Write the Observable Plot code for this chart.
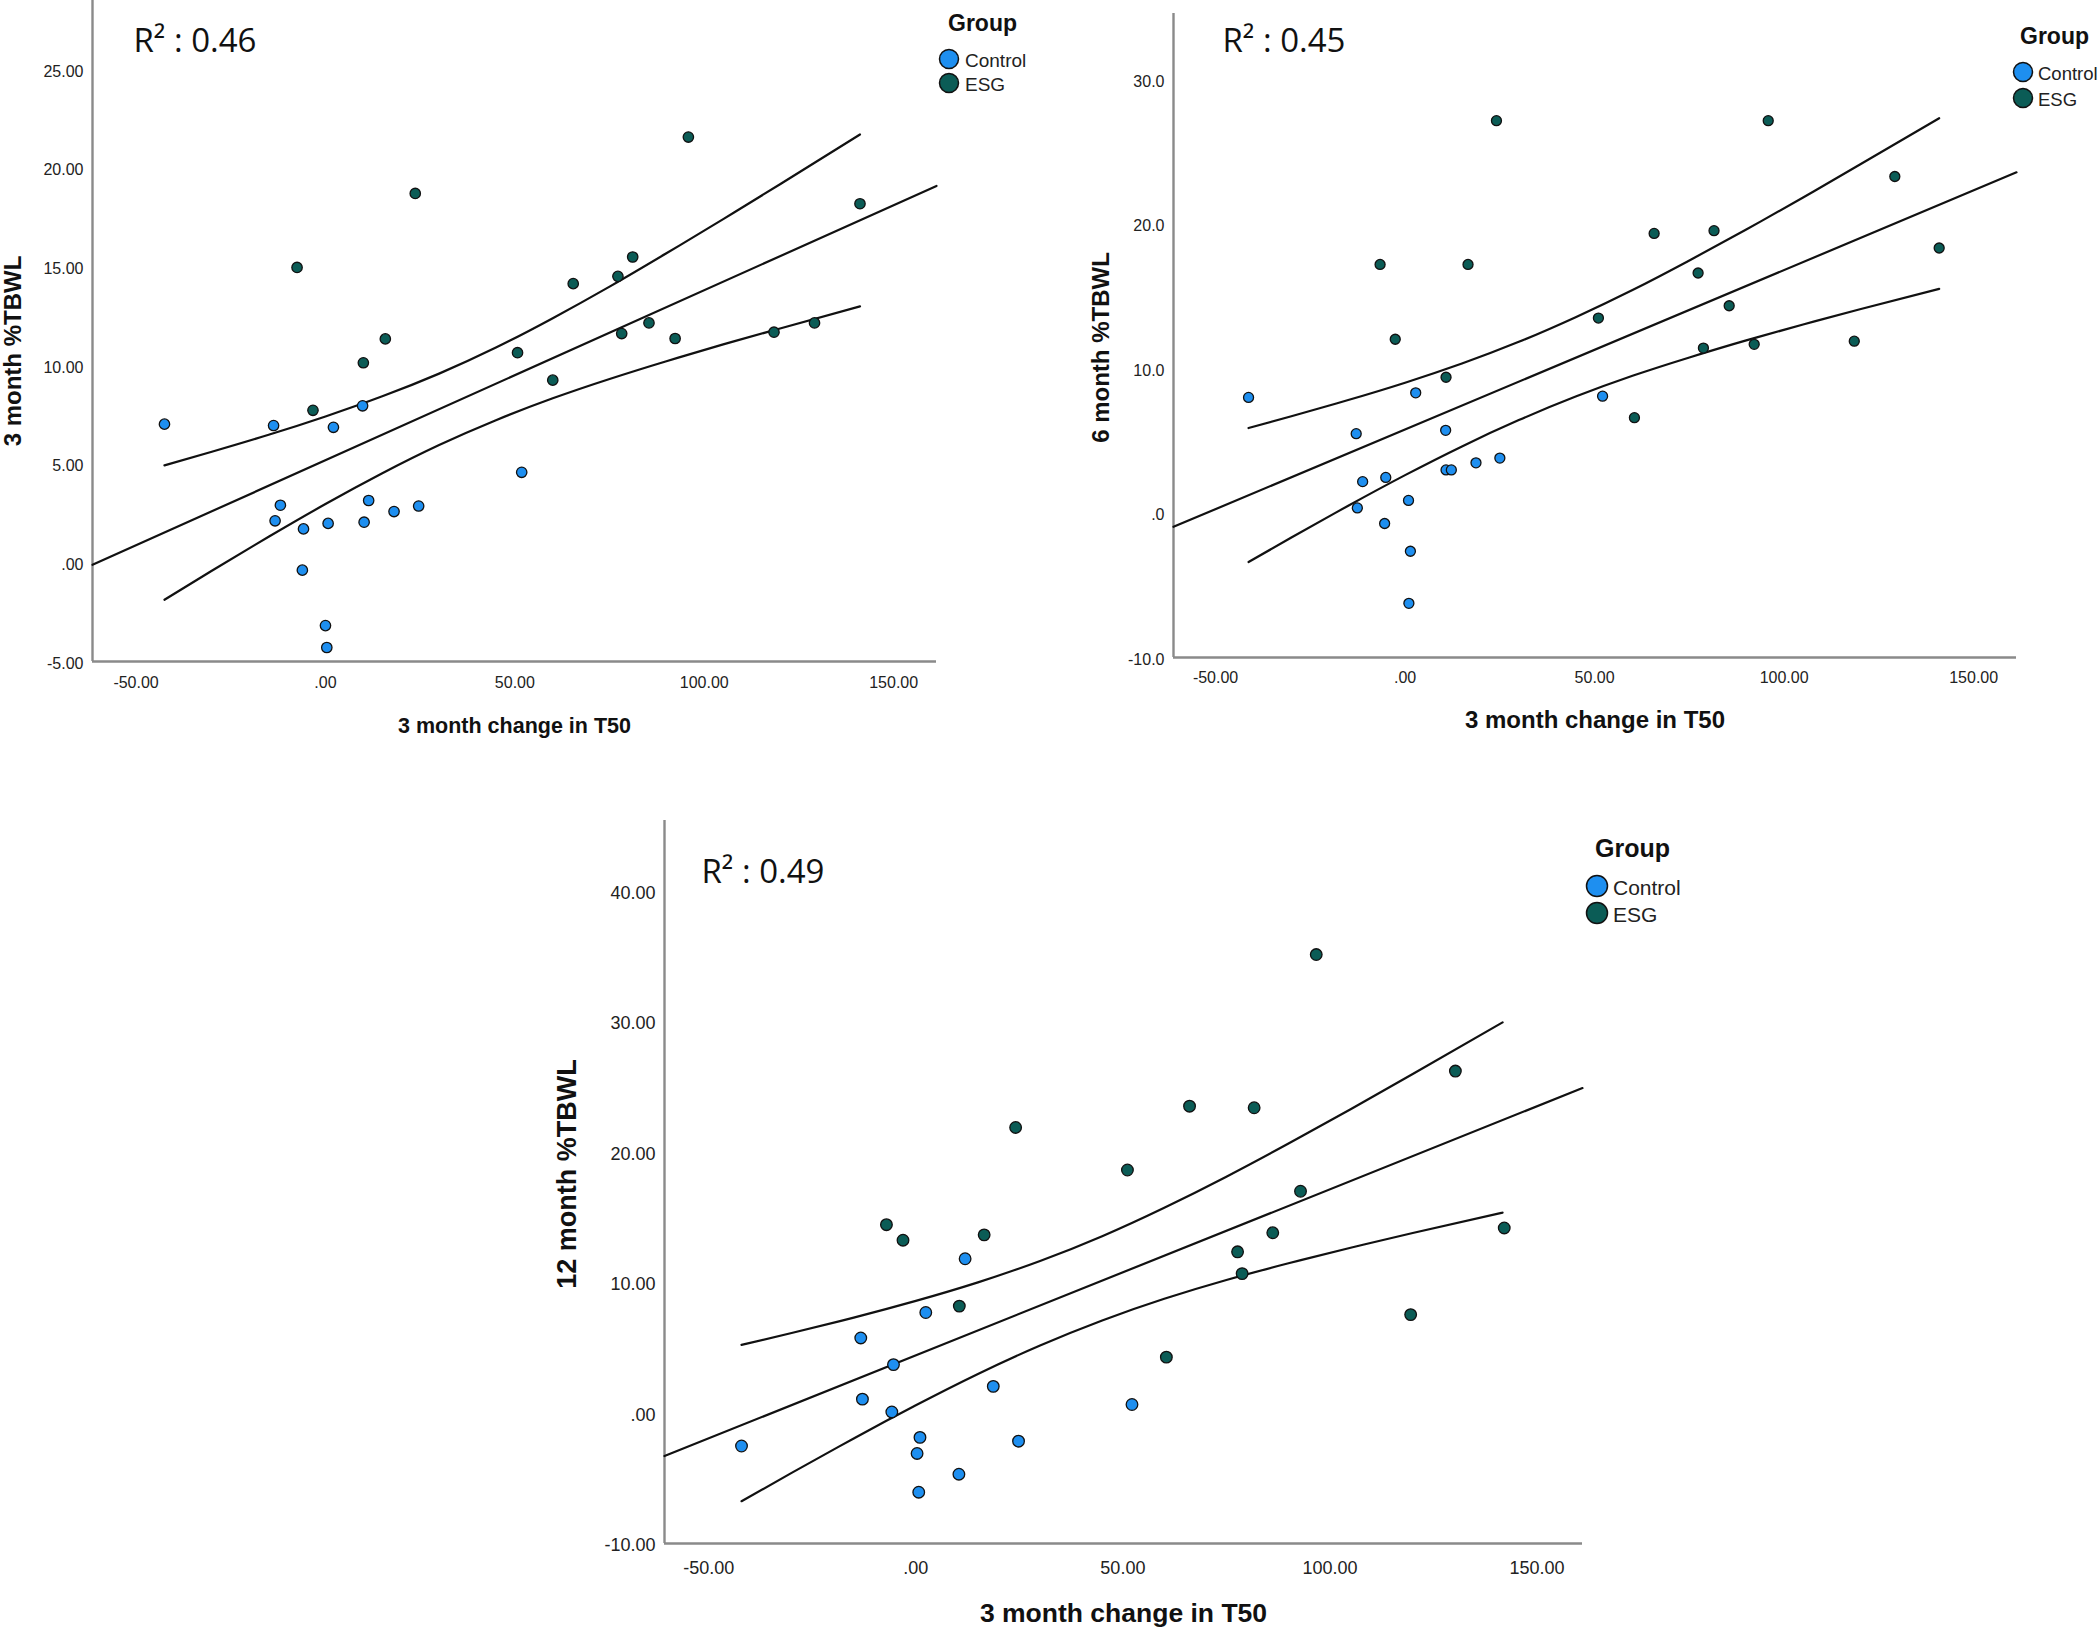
<!DOCTYPE html>
<html>
<head>
<meta charset="utf-8">
<script src="https://cdn.jsdelivr.net/npm/d3@7"></script>
<script src="https://cdn.jsdelivr.net/npm/@observablehq/plot@0.6"></script>
<style>
  html, body { margin: 0; padding: 0; background: #fff; }
  #wrap { position: relative; width: 2100px; height: 1628px; overflow: hidden; background: #fff; }
  .panel { position: absolute; }
  .panel svg { max-width: none; overflow: visible; }
  .legend { position: absolute; overflow: visible; }
</style>
</head>
<body>
<div id="wrap"></div>
<script>
// ---------------- data ----------------
const groups = ["Control", "ESG"];
const groupColors = ["#1e8ff0", "#0b5c56"];
const xTicks = [-50, 0, 50, 100, 150];
const xTickLabels = ["-50.00", ".00", "50.00", "100.00", "150.00"];
const xLabel = "3 month change in T50";

// Panel 1: 3 month %TBWL
const p1YLabel = "3 month %TBWL";
const p1R2 = "R² : 0.46";
const p1XDomain = [-61.5, 161.3];
const p1YDomain = [-5, 28.5];
const p1YTicks = [-5, 0, 5, 10, 15, 20, 25];
const p1YTickLabels = ["-5.00", ".00", "5.00", "10.00", "15.00", "20.00", "25.00"];
const p1ControlX = [-42.5, -13.7, 2.1, 9.8, -11.9, -13.3, -5.8, 0.7, 10.2, 11.4, 18.1, 24.6, -6.1, 0.0, 0.35, 51.8];
const p1ControlY = [7.03, 6.96, 6.87, 7.96, 2.92, 2.13, 1.72, 2.0, 2.06, 3.16, 2.6, 2.88, -0.37, -3.18, -4.29, 4.59];
const p1EsgX = [-7.5, -3.3, 10.0, 15.8, 23.7, 50.7, 60.0, 65.4, 77.2, 81.1, 78.2, 85.4, 92.3, 95.8, 118.4, 129.1, 141.1];
const p1EsgY = [14.97, 7.73, 10.14, 11.35, 18.72, 10.65, 9.26, 14.15, 14.52, 15.5, 11.62, 12.16, 11.37, 21.58, 11.69, 12.16, 18.2];
const p1FitX = [-61.5, 161.3];
const p1FitY = [-0.1, 19.1];
const p1BandX = [-42.5, -30, -15, 0, 15, 30, 45, 60, 75, 90, 105, 120, 141.1];
const p1Upper = [4.94, 5.63, 6.49, 7.42, 8.44, 9.59, 10.91, 12.40, 14.00, 15.69, 17.42, 19.19, 21.71];
const p1Lower = [-1.87, -0.40, 1.32, 2.98, 4.54, 5.97, 7.23, 8.34, 9.32, 10.22, 11.07, 11.88, 13.00];

// Panel 2: 6 month %TBWL
const p2YLabel = "6 month %TBWL";
const p2R2 = "R² : 0.45";
const p2XDomain = [-61.1, 161.3];
const p2YDomain = [-10, 34.6];
const p2YTicks = [-10, 0, 10, 20, 30];
const p2YTickLabels = ["-10.0", ".0", "10.0", "20.0", "30.0"];
const p2ControlX = [-41.3, -12.9, 2.8, 10.7, -11.2, -5.1, -12.6, 0.9, -5.4, 10.8, 12.2, 18.7, 25.0, 1.4, 1.0, 52.1];
const p2ControlY = [8.01, 5.50, 8.33, 5.73, 2.18, 2.47, 0.36, 0.88, -0.72, 2.99, 2.99, 3.48, 3.81, -2.64, -6.25, 8.1];
const p2EsgX = [-6.6, -2.6, 10.8, 16.6, 24.1, 51.0, 60.5, 65.7, 77.3, 81.5, 78.7, 85.5, 92.1, 95.8, 118.5, 129.2, 140.9];
const p2EsgY = [17.22, 12.04, 9.41, 17.22, 27.18, 13.51, 6.61, 19.37, 16.63, 19.56, 11.43, 14.36, 11.69, 27.18, 11.91, 23.31, 18.36];
const p2FitX = [-61.1, 161.3];
const p2FitY = [-0.95, 23.6];
const p2BandX = [-41.3, -30, -15, 0, 15, 30, 45, 60, 75, 90, 105, 120, 140.9];
const p2Upper = [5.89, 6.71, 7.83, 9.03, 10.36, 11.86, 13.57, 15.45, 17.50, 19.64, 21.86, 24.14, 27.35];
const p2Lower = [-3.39, -1.69, 0.51, 2.63, 4.62, 6.44, 8.07, 9.51, 10.78, 11.96, 13.06, 14.12, 15.53];

// Panel 3: 12 month %TBWL
const p3YLabel = "12 month %TBWL";
const p3R2 = "R² : 0.49";
const p3XDomain = [-60.7, 161.0];
const p3YDomain = [-10, 45.4];
const p3YTicks = [-10, 0, 10, 20, 30, 40];
const p3YTickLabels = ["-10.00", ".00", "10.00", "20.00", "30.00", "40.00"];
const p3ControlX = [-42.1, -13.3, -12.9, -5.4, -5.8, 2.4, 11.9, 1.0, 0.3, 0.7, 10.4, 18.7, 24.8, 52.2];
const p3ControlY = [-2.53, 5.75, 1.06, 3.71, 0.08, 7.70, 11.82, -1.87, -3.10, -6.07, -4.69, 2.04, -2.16, 0.65];
const p3EsgX = [-7.1, -3.1, 10.5, 16.5, 24.1, 51.1, 60.5, 66.1, 81.7, 77.7, 78.8, 86.2, 92.9, 96.7, 119.5, 130.3, 142.1];
const p3EsgY = [14.43, 13.24, 8.19, 13.65, 21.88, 18.62, 4.28, 23.51, 23.39, 12.35, 10.68, 13.81, 16.99, 35.13, 7.54, 26.2, 14.18];
const p3FitX = [-60.7, 161.0];
const p3FitY = [-3.3, 24.9];
const p3BandX = [-42.1, -30, -15, 0, 15, 30, 45, 60, 75, 90, 105, 120, 141.7];
const p3Upper = [5.22, 6.13, 7.31, 8.59, 10.01, 11.65, 13.55, 15.73, 18.11, 20.65, 23.28, 25.97, 29.93];
const p3Lower = [-6.76, -4.59, -1.95, 0.59, 2.99, 5.17, 7.09, 8.75, 10.19, 11.47, 12.66, 13.79, 15.35];

// ---------------- drawing ----------------
const wrap = document.getElementById("wrap");
const AXIS_GRAY = "#8a8a8a";

function zip(xs, ys, extra) {
  return xs.map((x, i) => Object.assign({x, y: ys[i]}, extra || {}));
}

function makePanel(d, L) {
  const points = [
    ...zip(d.controlX, d.controlY, {g: groups[0]}),
    ...zip(d.esgX, d.esgY, {g: groups[1]})
  ];
  const fit = zip(d.fitX, d.fitY);
  const upper = zip(d.bandX, d.upper);
  const lower = zip(d.bandX, d.lower);
  const plot = Plot.plot({
    width: L.width, height: L.height,
    marginLeft: L.ml, marginRight: L.mr, marginTop: L.mt, marginBottom: L.mb,
    style: {background: "transparent", fontFamily: "Liberation Sans, Arial, sans-serif", color: "#222", overflow: "visible"},
    x: {domain: d.xDomain},
    y: {domain: d.yDomain},
    color: {domain: groups, range: groupColors},
    marks: [
      Plot.ruleX([d.xDomain[0]], {stroke: AXIS_GRAY, strokeWidth: 2.4}),
      Plot.ruleY([d.yDomain[0]], {stroke: AXIS_GRAY, strokeWidth: 2.4}),
      Plot.axisX({ticks: xTicks, tickFormat: v => xTickLabels[xTicks.indexOf(v)], tickSize: 0, tickPadding: L.xPad, fontSize: L.tickFont, label: null}),
      Plot.axisY({ticks: d.yTicks, tickFormat: v => d.yTickLabels[d.yTicks.indexOf(v)], tickSize: 0, tickPadding: 9, dy: 2, fontSize: L.tickFont, label: null}),
      Plot.line(fit, {x: "x", y: "y", stroke: "#111", strokeWidth: 2.2}),
      Plot.line(upper, {x: "x", y: "y", stroke: "#111", strokeWidth: 2.2, curve: "natural"}),
      Plot.line(lower, {x: "x", y: "y", stroke: "#111", strokeWidth: 2.2, curve: "natural"}),
      Plot.dot(points, {x: "x", y: "y", fill: "g", stroke: "#111", strokeWidth: 1.3, r: L.r}),
      Plot.text([d.r2], {frameAnchor: "top-left", text: t => t, dx: L.r2dx, dy: L.r2dy, textAnchor: "start", lineAnchor: "middle", fontSize: 33, fontFamily: "Open Sans, Lato, sans-serif", fill: "#111"}),
      Plot.text([xLabel], {frameAnchor: "bottom", text: t => t, dy: L.xlDy, lineAnchor: "middle", fontSize: L.xlFont, fontWeight: "bold", fill: "#111"}),
      Plot.text([d.yLabel], {frameAnchor: "left", text: t => t, rotate: -90, dx: L.ylDx, dy: L.ylDy, textAnchor: "middle", lineAnchor: "middle", fontSize: L.ylFont, fontWeight: "bold", fill: "#111"})
    ]
  });
  const holder = document.createElement("div");
  holder.className = "panel";
  holder.style.left = L.left + "px";
  holder.style.top = L.top + "px";
  holder.appendChild(plot);
  wrap.appendChild(holder);
}

function makeLegend(L) {
  const svg = d3.create("svg")
    .attr("class", "legend")
    .attr("width", 200).attr("height", 110)
    .style("left", L.left + "px").style("top", L.top + "px");
  svg.append("text").text("Group")
    .attr("x", L.tx).attr("y", L.ty)
    .attr("dominant-baseline", "central")
    .attr("font-family", "Liberation Sans, Arial, sans-serif")
    .attr("font-weight", "bold").attr("font-size", L.titleFont).attr("fill", "#111");
  groups.forEach((g, i) => {
    const cy = L.cy0 + i * L.gap;
    svg.append("circle").attr("cx", L.cx).attr("cy", cy).attr("r", L.r)
      .attr("fill", groupColors[i]).attr("stroke", "#111").attr("stroke-width", 1.5);
    svg.append("text").text(g)
      .attr("x", L.lx).attr("y", cy + 1)
      .attr("dominant-baseline", "central")
      .attr("font-family", "Liberation Sans, Arial, sans-serif")
      .attr("font-size", L.labelFont).attr("fill", "#222");
  });
  wrap.appendChild(svg.node());
}

makePanel(
  {xDomain: p1XDomain, yDomain: p1YDomain, yTicks: p1YTicks, yTickLabels: p1YTickLabels,
   controlX: p1ControlX, controlY: p1ControlY, esgX: p1EsgX, esgY: p1EsgY,
   fitX: p1FitX, fitY: p1FitY, bandX: p1BandX, upper: p1Upper, lower: p1Lower,
   r2: p1R2, yLabel: p1YLabel},
  {left: 0, top: 0, width: 1000, height: 760, ml: 92, mr: 64, mt: 0, mb: 99,
   tickFont: 16, xPad: 15, r: 5.2, r2dx: 41, r2dy: 41, xlDy: 65, xlFont: 21.5, ylDx: -79, ylDy: 20, ylFont: 24}
);
makePanel(
  {xDomain: p2XDomain, yDomain: p2YDomain, yTicks: p2YTicks, yTickLabels: p2YTickLabels,
   controlX: p2ControlX, controlY: p2ControlY, esgX: p2EsgX, esgY: p2EsgY,
   fitX: p2FitX, fitY: p2FitY, bandX: p2BandX, upper: p2Upper, lower: p2Lower,
   r2: p2R2, yLabel: p2YLabel},
  {left: 1030, top: 0, width: 1070, height: 760, ml: 143, mr: 84, mt: 13, mb: 103,
   tickFont: 16, xPad: 14, r: 5.0, r2dx: 49, r2dy: 28, xlDy: 63, xlFont: 24, ylDx: -72, ylDy: 12, ylFont: 24}
);
makePanel(
  {xDomain: p3XDomain, yDomain: p3YDomain, yTicks: p3YTicks, yTickLabels: p3YTickLabels,
   controlX: p3ControlX, controlY: p3ControlY, esgX: p3EsgX, esgY: p3EsgY,
   fitX: p3FitX, fitY: p3FitY, bandX: p3BandX, upper: p3Upper, lower: p3Lower,
   r2: p3R2, yLabel: p3YLabel},
  {left: 500, top: 780, width: 1100, height: 848, ml: 164, mr: 18, mt: 40, mb: 85,
   tickFont: 18, xPad: 18, r: 5.8, r2dx: 37, r2dy: 52, xlDy: 70, xlFont: 26.5, ylDx: -97, ylDy: -8, ylFont: 27}
);

makeLegend({left: 930, top: 0, tx: 18, ty: 23, titleFont: 23, cx: 19, cy0: 59, gap: 24, r: 9.5, lx: 35, labelFont: 19});
makeLegend({left: 2002, top: 0, tx: 18, ty: 36, titleFont: 23, cx: 21, cy0: 72, gap: 26, r: 9.5, lx: 36, labelFont: 18.5});
makeLegend({left: 1577, top: 800, tx: 18, ty: 48, titleFont: 25, cx: 20, cy0: 86, gap: 27, r: 10.5, lx: 36, labelFont: 21});
</script>
</body>
</html>
